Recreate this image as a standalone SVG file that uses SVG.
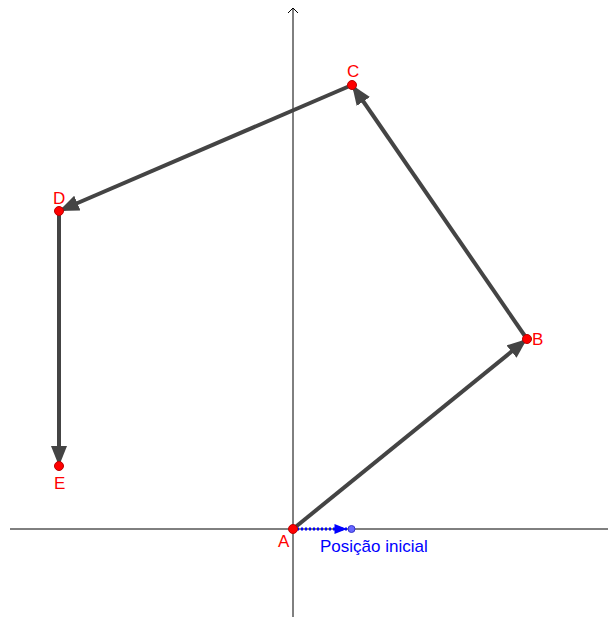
<svg xmlns="http://www.w3.org/2000/svg" width="608" height="617" viewBox="0 0 608 617">
<style>
.axis{stroke:#000;stroke-width:1;fill:none}
.vec{stroke:#444;stroke-width:4;fill:none}
.pt{fill:#f00;stroke:#b00;stroke-width:1}
.lbl{font-family:"Liberation Sans",Arial,sans-serif;font-size:17px;fill:#f00}
.blue{font-family:"Liberation Sans",Arial,sans-serif;font-size:17px;fill:#00f}
</style>
<defs>
<marker id="ah" viewBox="0 0 10 8" refX="10" refY="4" markerWidth="5" markerHeight="4" orient="auto" markerUnits="strokeWidth">
<path d="M0,0 L10,4 L0,8 Z" fill="#444"/>
</marker>
<marker id="bh" viewBox="0 0 10 8" refX="10" refY="4" markerWidth="14" markerHeight="10" orient="auto" markerUnits="userSpaceOnUse">
<path d="M0,0 L10,4 L0,8 Z" fill="#00f"/>
</marker>
</defs>
<g id="axes">
<line class="axis" x1="10" y1="529" x2="608" y2="529"/>
<line class="axis" x1="293" y1="617" x2="293" y2="8"/>
<path class="axis" d="M288,13 L293,8 L298,13"/>
</g>
<g id="connectors">
<line class="vec" x1="293" y1="529" x2="527" y2="339" marker-end="url(#ah)"/>
<line class="vec" x1="527" y1="339" x2="352" y2="85" marker-end="url(#ah)"/>
<line class="vec" x1="352" y1="85" x2="59" y2="211" marker-end="url(#ah)"/>
<line class="vec" x1="59" y1="211" x2="59" y2="466" marker-end="url(#ah)"/>
<line x1="293" y1="529" x2="347" y2="529" stroke="#00f" stroke-width="3" stroke-dasharray="2,2" marker-end="url(#bh)"/>
</g>
<g id="A"><circle class="pt" cx="293" cy="529" r="4.5"/><text class="lbl" x="278" y="547">A</text></g>
<g id="B"><circle class="pt" cx="527" cy="339" r="4.5"/><text class="lbl" x="532" y="345">B</text></g>
<g id="C"><circle class="pt" cx="352" cy="85" r="4.5"/><text class="lbl" x="347" y="77">C</text></g>
<g id="D"><circle class="pt" cx="59" cy="211" r="4.5"/><text class="lbl" x="53" y="204">D</text></g>
<g id="E"><circle class="pt" cx="59" cy="466" r="4.5"/><text class="lbl" x="54" y="489">E</text></g>
<g id="P"><circle cx="351.5" cy="529" r="3.5" fill="#66f" stroke="#33c" stroke-width="1"/><text class="blue" x="320" y="552">Posição inicial</text></g>
</svg>
